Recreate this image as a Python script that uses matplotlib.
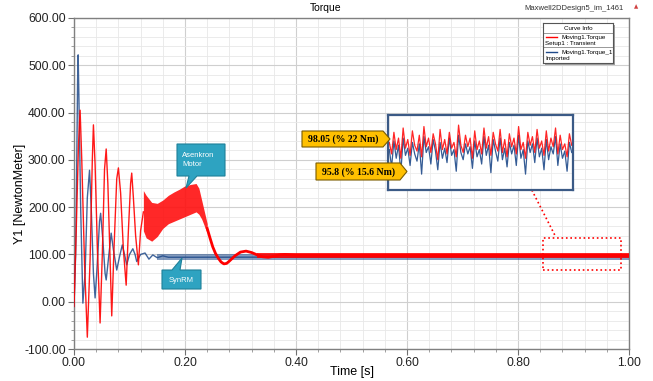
import numpy as np
import matplotlib
matplotlib.use("Agg")
import matplotlib.pyplot as plt
from matplotlib.patches import Polygon, Rectangle
from matplotlib.ticker import MultipleLocator, FormatStrFormatter

plt.rcParams['font.family'] = ['Liberation Sans', 'DejaVu Sans']

# =============================================================================
# DATA
# =============================================================================

# Asenkron motor torque (red) - transient oscillations
red_t = [0.000, 0.004, 0.008, 0.011, 0.014, 0.019, 0.024, 0.029, 0.033, 0.035,
         0.038, 0.042, 0.047, 0.051, 0.055, 0.058, 0.061, 0.065, 0.068, 0.072,
         0.077, 0.080, 0.084, 0.089, 0.094, 0.098, 0.102, 0.104, 0.107, 0.111,
         0.116, 0.120, 0.125]
red_v = [-10, 150, 330, 405, 300, 80, -75, 90, 300, 374,
         290, 120, -45, 100, 280, 323, 250, 90, -30, 110,
         260, 283, 230, 110, 35, 150, 250, 272, 220, 140,
         78, 150, 190]

# red noisy band during acceleration
red_band_t = [0.125, 0.130, 0.140, 0.150, 0.160, 0.170, 0.180, 0.190, 0.200,
              0.210, 0.220, 0.225, 0.230, 0.235, 0.240]
red_band_hi = [235, 225, 210, 208, 215, 225, 232, 238, 245, 248, 250, 240, 215, 190, 165]
red_band_lo = [150, 135, 128, 138, 155, 165, 170, 175, 180, 185, 190, 185, 175, 160, 145]

# red settling
red_tail_t = [0.240, 0.245, 0.250, 0.255, 0.260, 0.265, 0.270, 0.275, 0.280, 0.290,
              0.300, 0.310, 0.320, 0.330, 0.340, 0.350, 0.360, 0.370, 0.380, 0.400,
              0.450, 1.000]
red_tail_v = [155, 135, 116, 102, 92, 84, 80, 81, 86, 97,
              105, 107, 104, 99, 95, 94, 96, 99, 100, 98,
              98, 98]
red_ss_t = [0.33, 1.00]
red_ss_hi = [103, 103]
red_ss_lo = [93, 93]

# SynRM torque (blue)
blue_t = [0.000, 0.003, 0.005, 0.0065, 0.0075, 0.009, 0.012, 0.016, 0.020, 0.024,
          0.028, 0.031, 0.035, 0.038, 0.042, 0.046, 0.048, 0.052, 0.056, 0.058,
          0.062, 0.067, 0.071, 0.077, 0.082, 0.087, 0.091, 0.095, 0.100, 0.106,
          0.110, 0.113, 0.120, 0.128, 0.135, 0.142, 0.150, 0.160, 0.170, 1.000]
blue_v = [-10, 100, 300, 470, 522, 420, 200, -3, 60, 220,
          278, 200, 60, 8, 80, 170, 187, 130, 60, 46,
          90, 145, 110, 67, 95, 120, 100, 78, 100, 112,
          100, 85, 100, 103, 90, 99, 93, 97, 94, 95]
blue_ss_t = [0.15, 1.00]
blue_ss_hi = [100, 100]
blue_ss_lo = [89, 89]

# zoomed window (0.845 - 0.986 s)
zoom_t0, zoom_t1 = 0.845, 0.986
red_zoom = [101, 93, 108, 96, 104, 90, 111, 97, 103, 92, 109, 99, 95, 106, 91, 112,
            98, 104, 94, 107, 100, 89, 110, 96, 103, 93, 108, 97, 101, 91, 113, 99,
            94, 106, 98, 104, 90, 109, 96, 102, 93, 111, 97, 105, 92, 108, 100, 95,
            110, 94, 103, 91, 107, 98, 104, 93, 112, 96, 101, 90, 108, 99, 105, 94,
            110, 97, 102, 92, 109, 95, 104, 98, 111, 93, 106, 96, 100, 91, 107, 99]
blue_zoom = [96, 84, 102, 90, 99, 80, 104, 92, 97, 85, 101, 93, 88, 100, 79, 105,
             94, 98, 86, 103, 95, 82, 101, 90, 97, 87, 104, 92, 96, 81, 106, 94,
             89, 100, 93, 98, 83, 102, 91, 96, 86, 105, 92, 99, 80, 103, 95, 88,
             104, 89, 97, 84, 101, 93, 99, 85, 106, 90, 96, 79, 102, 94, 100, 87,
             104, 91, 97, 82, 103, 89, 98, 93, 105, 85, 100, 90, 95, 81, 101, 94]

red_label = "98.05 (% 22 Nm)"
blue_label = "95.8 (% 15.6 Nm)"

RED = "#ff0000"
BLUE = "#1f4a8a"

# =============================================================================
# FIGURE
# =============================================================================
W, H = 653, 381
fig = plt.figure(figsize=(W / 100, H / 100), dpi=100)
fig.patch.set_facecolor("white")


def fx(px):
    return px / W


def fy(py):
    return 1 - py / H


ax = fig.add_axes([fx(74), fy(349), fx(629) - fx(74), fy(18) - fy(349)])

ax.plot(blue_t, blue_v, color=BLUE, lw=1.0, alpha=0.85, zorder=3)
ax.fill_between(blue_ss_t, blue_ss_lo, blue_ss_hi, color=BLUE, alpha=0.55, lw=0, zorder=3)
ax.plot(red_t, red_v, color=RED, lw=1.0, alpha=0.9, zorder=4)
ax.fill_between(red_band_t, red_band_lo, red_band_hi, color="#ff1010", alpha=0.9, lw=0, zorder=4)
ax.plot(red_tail_t, red_tail_v, color=RED, lw=2.0, zorder=4)
ax.fill_between(red_ss_t, red_ss_lo, red_ss_hi, color=RED, alpha=0.85, lw=0, zorder=4)

ax.set_xlim(0, 1)
ax.set_ylim(-100, 600)
ax.xaxis.set_major_locator(MultipleLocator(0.2))
ax.xaxis.set_minor_locator(MultipleLocator(0.04))
ax.yaxis.set_major_locator(MultipleLocator(100))
ax.yaxis.set_minor_locator(MultipleLocator(20))
ax.xaxis.set_major_formatter(FormatStrFormatter("%.2f"))
ax.yaxis.set_major_formatter(FormatStrFormatter("%.2f"))
ax.grid(which="major", color="#cfcfcf", lw=0.8, zorder=0)
ax.grid(which="minor", color="#e8e8e8", lw=0.6, zorder=0)
ax.set_axisbelow(True)
ax.tick_params(which="major", direction="out", length=4, color="#707070",
               labelsize=8.7, labelcolor="#222222", pad=2)
ax.tick_params(which="minor", direction="out", length=2.5, color="#909090")
for s in ax.spines.values():
    s.set_color("#808080")
    s.set_linewidth(1.0)
ax.set_xlabel("Time [s]", fontsize=9)
ax.set_ylabel("Y1 [NewtonMeter]", fontsize=9)
ax.xaxis.set_label_coords(0.5, -0.05)
ax.yaxis.set_label_coords(-0.086, 0.47)

# dotted zoom marker
ax.plot([zoom_t0, zoom_t1, zoom_t1, zoom_t0, zoom_t0], [67, 67, 135, 135, 67],
        color=RED, ls=":", lw=1.2, zorder=6)
ax.plot([0.825, 0.868], [236, 137], color=RED, ls=":", lw=1.2, zorder=6)

# titles
fig.text(fx(326), fy(8), "Torque", ha="center", va="center", fontsize=7.5)
fig.text(fx(624), fy(8), "Maxwell2DDesign5_im_1461", ha="right", va="center",
         fontsize=5.5, color="#333333")
fig.text(fx(636), fy(7), "\u25b2", ha="center", va="center", fontsize=4,
         color="#d04040", family="DejaVu Sans")

# =============================================================================
# INSET (zoomed steady state)
# =============================================================================
axin = fig.add_axes([fx(388), fy(190), fx(573) - fx(388), fy(115) - fy(190)])
zt = np.linspace(zoom_t0, zoom_t1, len(red_zoom))
axin.plot(zt, blue_zoom, color=BLUE, lw=0.9, alpha=0.9)
axin.plot(zt, red_zoom, color=RED, lw=0.9, alpha=0.85)
axin.set_xlim(zoom_t0 - 0.001, zoom_t1 + 0.001)
axin.set_ylim(68, 120)
axin.set_xticks(np.linspace(zoom_t0, zoom_t1, 10))
axin.set_yticks([80, 100])
axin.grid(color="#ececec", lw=0.6)
axin.tick_params(length=0, labelbottom=False, labelleft=False)
for s in axin.spines.values():
    s.set_color("#3b5a86")
    s.set_linewidth(1.6)

# =============================================================================
# LEGEND BOX ("Curve Info")
# =============================================================================
lx0, ly0, lx1, ly1 = 543, 23, 613, 63
fig.patches.append(Rectangle((fx(lx0 + 2), fy(ly1 + 2)), fx(lx1) - fx(lx0), fy(ly0) - fy(ly1),
                             transform=fig.transFigure, facecolor="#a0a0a0",
                             edgecolor="none", zorder=9))
leg = fig.add_axes([fx(lx0), fy(ly1), fx(lx1) - fx(lx0), fy(ly0) - fy(ly1)], zorder=10)
leg.set_xlim(0, 1)
leg.set_ylim(0, 1)
leg.set_xticks([])
leg.set_yticks([])
for s in leg.spines.values():
    s.set_color("#555555")
    s.set_linewidth(0.8)
leg.text(0.5, 0.87, "Curve Info", ha="center", va="center", fontsize=4.5)
leg.axhline(0.76, color="#888888", lw=0.6)
leg.plot([0.04, 0.2], [0.65, 0.65], color=RED, lw=1.0)
leg.text(0.26, 0.65, "Moving1.Torque", va="center", fontsize=4.5)
leg.text(0.03, 0.49, "Setup1 : Transient", va="center", fontsize=4.5)
leg.axhline(0.39, color="#888888", lw=0.6)
leg.plot([0.04, 0.2], [0.27, 0.27], color=BLUE, lw=1.0)
leg.text(0.26, 0.27, "Moving1.Torque_1", va="center", fontsize=4.5)
leg.text(0.03, 0.11, "Imported", va="center", fontsize=4.5)

# =============================================================================
# CALLOUTS
# =============================================================================


def shape(points, fc, ec):
    pts = [(fx(x), fy(y)) for x, y in points]
    fig.patches.append(Polygon(pts, closed=True, transform=fig.transFigure,
                               facecolor=fc, edgecolor=ec, lw=0.8, zorder=20))


shape([(302, 131), (383, 131), (390, 139), (383, 147), (302, 147)], "#ffc000", "#7a5c00")
fig.text(fx(343), fy(139.5), red_label, ha="center", va="center", fontsize=7,
         family="Liberation Serif", weight="bold", zorder=21)
shape([(316, 163), (400, 163), (407, 171.5), (400, 180), (316, 180)], "#ffc000", "#7a5c00")
fig.text(fx(358), fy(172), blue_label, ha="center", va="center", fontsize=7,
         family="Liberation Serif", weight="bold", zorder=21)

shape([(177, 144), (225, 144), (225, 176), (197, 176), (186, 188), (189, 176), (177, 176)],
      "#2ea3c1", "#1f8099")
fig.text(fx(182), fy(160), "Asenkron\nMotor", ha="left", va="center", fontsize=5.5,
         color="white", linespacing=1.5, zorder=21)
shape([(162, 270), (172, 270), (182, 258), (180, 270), (201, 270), (201, 289), (162, 289)],
      "#2ea3c1", "#1f8099")
fig.text(fx(181.5), fy(280), "SynRM", ha="center", va="center", fontsize=5.5,
         color="white", zorder=21)

fig.savefig("out.png", dpi=100)
